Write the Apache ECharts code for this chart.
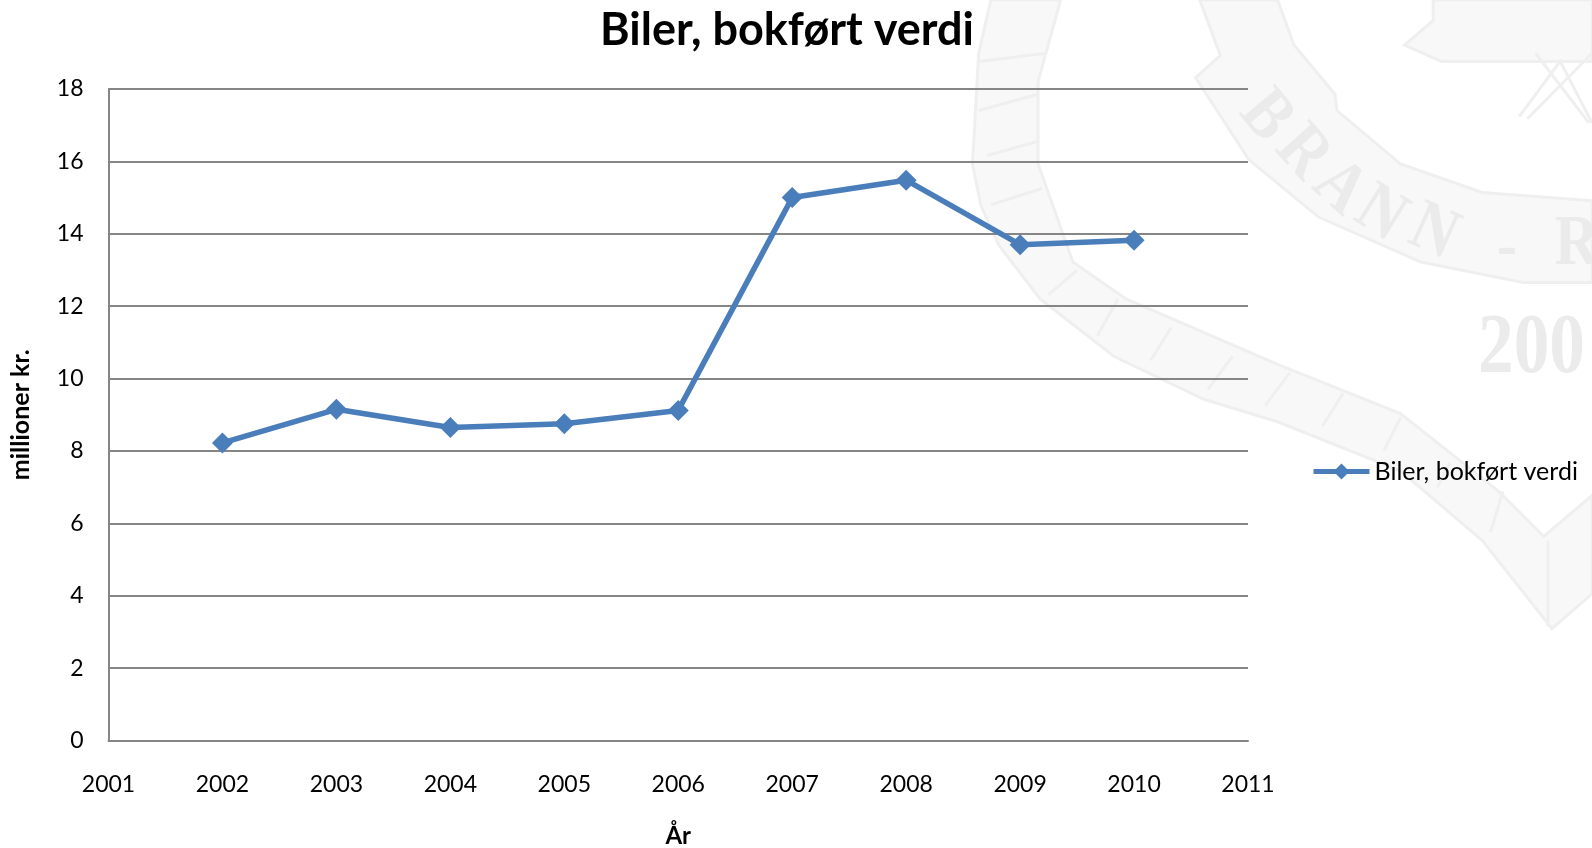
<!DOCTYPE html>
<html>
<head>
<meta charset="utf-8">
<title>Biler, bokført verdi</title>
<style>
    html, body { margin: 0; padding: 0; background: #fff; }
    #chart { width: 1592px; height: 848px; }
</style>
</head>
<body>
<div id="chart"></div>
<script src="https://cdn.jsdelivr.net/npm/echarts@6/dist/echarts.min.js"></script>
<script>
var years = [2002, 2003, 2004, 2005, 2006, 2007, 2008, 2009, 2010];
var values = [8.22, 9.15, 8.65, 8.75, 9.12, 15.0, 15.48, 13.7, 13.82];
var seriesName = 'Biler, bokført verdi';
var xName = 'År';
var yName = 'millioner kr.';
var stampLetters = ['B', 'R', 'A', 'N', 'N', '-', 'R'];
var stampYear = '200';

var fontName = 'Lato, "Open Sans", sans-serif';
var blue = '#4a7ebb';
var gridGrey = '#868686';
var stampFill = '#f8f8f8';
var stampLine = '#efefef';

function pt(x, y) {
    return [950 + x / 2.442, y / 2.442];
}
function poly(list) {
    return {
        type: 'polygon',
        z: -10,
        shape: { points: list.map(function (p) { return pt(p[0], p[1]); }) },
        style: { fill: stampFill, stroke: stampLine, lineWidth: 3 }
    };
}
function stroke(list) {
    return {
        type: 'polyline',
        z: -9,
        shape: { points: list.map(function (p) { return pt(p[0], p[1]); }) },
        style: { fill: null, stroke: stampLine, lineWidth: 3 }
    };
}
function stampText(str, x, y, rot, size, sx) {
    var p = pt(x, y);
    return {
        type: 'text',
        z: -8,
        x: p[0],
        y: p[1],
        scaleX: sx,
        rotation: rot * Math.PI / 180,
        style: {
            text: str,
            fill: '#ebebeb',
            font: 'bold ' + size + 'px "Liberation Serif", serif',
            textAlign: 'center',
            textVerticalAlign: 'middle'
        }
    };
}
var stampGraphics = [
    poly([[100, 0], [70, 130], [55, 400], [75, 500], [120, 600], [220, 730], [400, 870], [620, 975], [800, 1030], [1100, 1150], [1300, 1320], [1470, 1535], [1568, 1450], [1568, 1210], [1450, 1310], [1340, 1200], [1100, 1010], [800, 890], [430, 730], [300, 640], [215, 400], [215, 200], [270, 0]]),
    poly([[800, 0], [840, 110], [940, 230], [945, 270], [1100, 400], [1300, 470], [1568, 490], [1568, 690], [1400, 690], [1150, 640], [900, 530], [730, 390], [600, 190], [660, 135], [610, 0]]),
    poly([[1110, 110], [1180, 50], [1180, 0], [1568, 0], [1568, 150], [1200, 150]]),
    stroke([[1390, 285], [1490, 150], [1568, 300]]),
    stroke([[1430, 130], [1560, 300]]),
    stroke([[1568, 130], [1410, 290]]),
    stroke([[70, 150], [235, 130]]),
    stroke([[70, 270], [215, 230]]),
    stroke([[90, 380], [215, 345]]),
    stroke([[100, 500], [225, 460]]),
    stroke([[240, 720], [310, 660]]),
    stroke([[360, 820], [410, 730]]),
    stroke([[490, 880], [540, 800]]),
    stroke([[630, 950], [690, 870]]),
    stroke([[770, 990], [830, 910]]),
    stroke([[910, 1040], [960, 960]]),
    stroke([[1060, 1100], [1100, 1020]]),
    stroke([[1190, 1190], [1220, 1130]]),
    stroke([[1320, 1300], [1350, 1200]]),
    stroke([[1460, 1320], [1460, 1530]]),
    stampText(stampYear, 1420, 855, 0, 84, 0.85)
];
var letterPos = [[770, 285, -50], [860, 375, -48], [950, 460, -42], [1050, 525, -32], [1180, 570, -24], [1360, 610, 0], [1530, 600, 0]];
for (var i = 0; i < stampLetters.length; i++) {
    stampGraphics.push(stampText(stampLetters[i], letterPos[i][0], letterPos[i][1], letterPos[i][2], 72, 0.85));
}

var points = years.map(function (y, i) {
    return [y, values[i]];
});

var options = {
    backgroundColor: '#fff',
    animation: false,
    textStyle: { fontFamily: fontName },
    title: {
        text: seriesName,
        left: 782,
        top: 3,
        textAlign: 'center',
        textStyle: { fontFamily: fontName, fontSize: 45, fontWeight: 'bold', color: '#000' }
    },
    legend: {
        left: 1306,
        top: 454,
        itemWidth: 56,
        itemHeight: 20,
        itemGap: 0,
        data: [seriesName],
        lineStyle: { width: 5 },
        textStyle: { fontFamily: fontName, fontSize: 25, color: '#000' }
    },
    grid: { left: 108.5, right: 344, top: 89, bottom: 107.5, outerBoundsMode: 'none' },
    xAxis: {
        type: 'value',
        min: 2001,
        max: 2011,
        interval: 1,
        name: xName,
        nameLocation: 'middle',
        nameGap: 84,
        nameTextStyle: { fontFamily: fontName, fontSize: 24, fontWeight: 'bold', color: '#000' },
        splitLine: { show: false },
        axisTick: { show: false },
        axisLine: { lineStyle: { color: gridGrey, width: 2 } },
        axisLabel: {
            margin: 33,
            fontSize: 23,
            color: '#000',
            fontFamily: fontName,
            showMinLabel: true,
            showMaxLabel: true,
            formatter: function (v) { return String(v); }
        }
    },
    yAxis: {
        type: 'value',
        min: 0,
        max: 18,
        interval: 2,
        name: yName,
        nameLocation: 'middle',
        nameGap: 75,
        nameTextStyle: { fontFamily: fontName, fontSize: 25, fontWeight: 'bold', color: '#000' },
        axisTick: { show: false },
        axisLine: { show: true, lineStyle: { color: gridGrey, width: 2 } },
        splitLine: { lineStyle: { color: gridGrey, width: 2 } },
        axisLabel: { margin: 25, fontSize: 23, color: '#000', fontFamily: fontName }
    },
    series: [
        {
            name: seriesName,
            type: 'line',
            data: points,
            symbol: 'diamond',
            symbolSize: 21,
            lineStyle: { color: blue, width: 5.5 },
            itemStyle: { color: blue }
        }
    ],
    graphic: stampGraphics
};

var myChart = echarts.init(document.getElementById('chart'));
myChart.setOption(options);
</script>
</body>
</html>
